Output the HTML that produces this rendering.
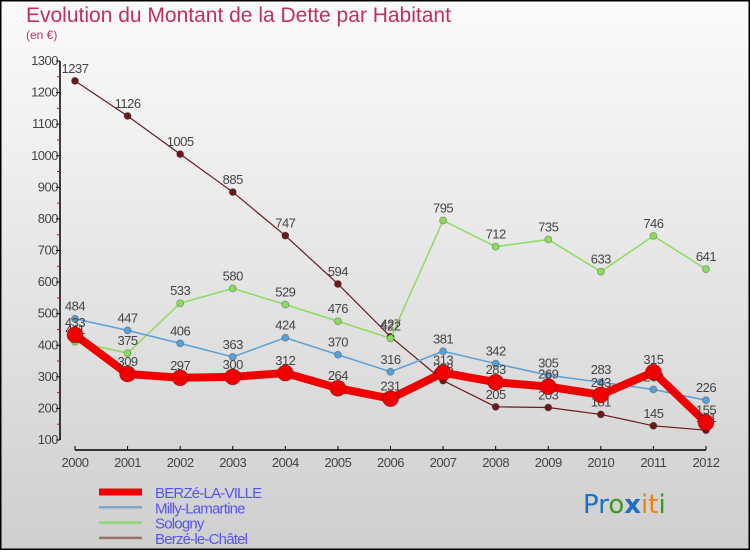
<!DOCTYPE html>
<html><head><meta charset="utf-8"><style>
body{margin:0}
#c{width:750px;height:550px;position:relative;font-family:"Liberation Sans",sans-serif}
</style></head><body>
<div id="c">
<svg id="s" width="750" height="550" xmlns="http://www.w3.org/2000/svg">
<defs><linearGradient id="bg" x1="0" y1="0" x2="0" y2="1"><stop offset="0" stop-color="#fbfbfb"/><stop offset="1" stop-color="#cfcfcf"/></linearGradient></defs>
<rect x="0.5" y="0.5" width="749" height="549" fill="url(#bg)" stroke="#000" stroke-width="2"/>
<text x="26" y="22" font-size="21" fill="#c0305a">Evolution du Montant de la Dette par Habitant</text>
<text x="26" y="39" font-size="12" fill="#c0305a">(en €)</text>
<g id="axes"></g><g id="series"></g><g id="legend"></g>
<text x="583" y="513" font-size="26" font-family="DejaVu Sans"><tspan fill="#1a6fc0">Pr</tspan><tspan fill="#3a9a20">o</tspan><tspan fill="#1a6fc0" font-weight="bold">x</tspan><tspan fill="#f08010">it</tspan><tspan fill="#3a9a20">i</tspan></text>
</svg></div>
<script>
const years=[2000,2001,2002,2003,2004,2005,2006,2007,2008,2009,2010,2011,2012];
const yTicks=[100,200,300,400,500,600,700,800,900,1000,1100,1200,1300];
const berze=[433,309,297,300,312,264,231,313,283,269,243,315,155];
const milly=[484,447,406,363,424,370,316,381,342,305,283,260,226];
const sologny=[411,375,533,580,529,476,422,795,712,735,633,746,641];
const chatel=[1237,1126,1005,885,747,594,427,288,205,203,181,145,131];
const NS="http://www.w3.org/2000/svg";
const x=i=>75+i*(706-75)/(years.length-1);
const y=v=>440-(v-100)*(440-61)/1200;
function mk(t,a,p){const e=document.createElementNS(NS,t);for(const k in a)e.setAttribute(k,a[k]);p.appendChild(e);return e;}
const ax=document.getElementById('axes');
mk('line',{x1:60,y1:61,x2:60,y2:440,stroke:'#000','stroke-width':1.5},ax);
mk('line',{x1:75,y1:450,x2:706,y2:450,stroke:'#000','stroke-width':1.5},ax);
yTicks.forEach((v,i)=>{
 mk('line',{x1:56,y1:y(v),x2:60,y2:y(v),stroke:'#000'},ax);
 if(i<yTicks.length-1)mk('line',{x1:57,y1:y(v+50),x2:60,y2:y(v+50),stroke:'#e00'},ax);
 const t=mk('text',{x:58,y:y(v)+4,'font-size':13,fill:'#444','text-anchor':'end','letter-spacing':-0.5},ax);
 
 
 t.textContent=v;
});
years.forEach((yr,i)=>{
 mk('line',{x1:x(i),y1:446,x2:x(i),y2:450,stroke:'#000'},ax);
 const t=mk('text',{x:x(i),y:467,'font-size':13,fill:'#444','text-anchor':'middle','letter-spacing':-0.5},ax);
 
 
 t.textContent=yr;
});
const S=[
 {n:'Berzé-le-Châtel',d:chatel,c:'#6b1a1a',w:1.2,r:3.5,lc:'#9a7070'},
 {n:'Sologny',d:sologny,c:'#8cdc60',w:1.5,r:3.5,lc:'#90d870'},
 {n:'Milly-Lamartine',d:milly,c:'#5aa0d8',w:1.5,r:3.5,lc:'#80a8c8'},
 {n:'BERZé-LA-VILLE',d:berze,c:'#f00000',w:8,r:8,lc:'#f00000'}
];
const sg=document.getElementById('series');
S.forEach(s=>{
 const g=mk('g',{},sg);
 
 
 const pl=mk('polyline',{points:s.d.map((v,i)=>x(i)+','+y(v)).join(' '),fill:'none',stroke:s.c,'stroke-width':s.w,'stroke-linejoin':'round'},g);
 
 s.d.forEach((v,i)=>{
  const c=mk('circle',{cx:x(i),cy:y(v),r:s.r,fill:s.c,stroke:'rgba(0,0,0,0.25)'},g);
  
  
  const t=mk('text',{x:x(i),y:y(v)-8,'font-size':13,fill:'#444','text-anchor':'middle','letter-spacing':-0.5},g);
  
  
  t.textContent=v;
 });
});
const lg=document.getElementById('legend');
[S[3],S[2],S[1],S[0]].forEach((s,i)=>{
 const yy=492+i*15.3;
 const l=mk('line',{x1:99,y1:yy,x2:142,y2:yy,stroke:s.lc,'stroke-width':s.w>2?7:2.5},lg);
 
 const t=mk('text',{x:155,y:yy+6,'font-size':15,fill:'#5555ee','letter-spacing':-0.8},lg);
 
 
 t.textContent=s.n;
});
</script>
</body></html>
